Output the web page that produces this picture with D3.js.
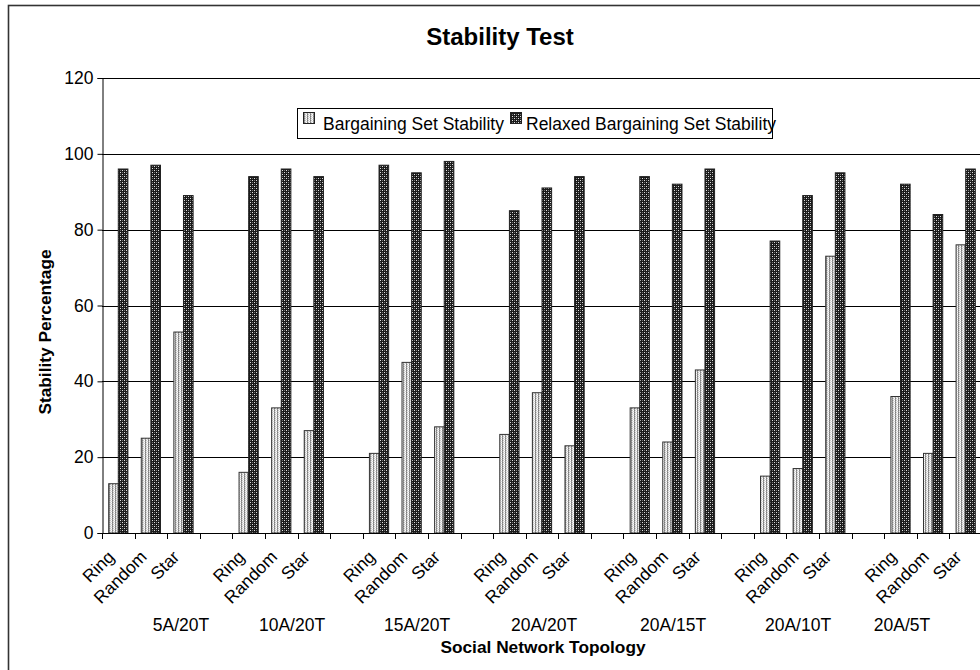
<!DOCTYPE html>
<html>
<head>
<meta charset="utf-8">
<script src="https://cdn.jsdelivr.net/npm/d3@7"></script>
<style>
  html, body { margin: 0; padding: 0; background: #fff; overflow: hidden; }
  svg { display: block; font-family: Arial, "Liberation Sans", sans-serif; }
</style>
</head>
<body>
<svg id="chart" width="980" height="670"></svg>
<script>
// Experiment groups (agents / tasks) and the topologies tested in each
const groups = ["5A/20T", "10A/20T", "15A/20T", "20A/20T", "20A/15T", "20A/10T", "20A/5T"];
const topologies = ["Ring", "Random", "Star"];

// Stability percentages, listed group by group in topology order
const bargaining = [13, 25, 53, 16, 33, 27, 21, 45, 28, 26, 37, 23, 33, 24, 43, 15, 17, 73, 36, 21, 76];
const relaxed    = [96, 97, 89, 94, 96, 94, 97, 95, 98, 85, 91, 94, 94, 92, 96, 77, 89, 95, 92, 84, 96];

const seriesNames = ["Bargaining Set Stability", "Relaxed Bargaining Set Stability"];
const yTicks = [0, 20, 40, 60, 80, 100, 120];

// Horizontal positions of the group names printed under the topology labels
const groupLabelX = [181, 292, 417, 544, 673, 798, 902];

// Category slots: three topologies per group, then an empty spacer slot
const slots = [];
groups.forEach((g, gi) => {
  topologies.forEach((t, ti) => {
    const k = gi * 3 + ti;
    slots.push({ label: t, group: g, b: bargaining[k], r: relaxed[k] });
  });
  if (gi < groups.length - 1) slots.push(null);
});

const svg = d3.select("#chart");
const plot = { left: 102, right: 982, top: 78, bottom: 533 };

// Fill patterns for the two series
const defs = svg.append("defs");
function pixelPattern(id, w, h, bg, pixels) {
  const p = defs.append("pattern").attr("id", id)
    .attr("patternUnits", "userSpaceOnUse").attr("width", w).attr("height", h);
  p.append("rect").attr("width", w).attr("height", h).attr("fill", bg);
  pixels.forEach(([px, py, c]) => {
    p.append("rect").attr("x", px).attr("y", py).attr("width", 1).attr("height", 1).attr("fill", c);
  });
}
// light stippled vertical stripes
pixelPattern("pat-light", 3, 2, "#b4b4b4", [
  [0, 0, "#ffffff"], [0, 1, "#d8d8d8"],
  [1, 0, "#7c7c7c"], [1, 1, "#9a9a9a"],
  [2, 0, "#c8c8c8"], [2, 1, "#ececec"]
]);
// dark dotted fill
pixelPattern("pat-dark", 4, 4, "#1a1a1a", [
  [0, 0, "#e0e0e0"], [2, 2, "#e0e0e0"],
  [2, 0, "#707070"], [0, 2, "#707070"]
]);

// Outer chart frame
svg.append("rect")
  .attr("x", 8.5).attr("y", 5.5).attr("width", 1100).attr("height", 800)
  .attr("fill", "none").attr("stroke", "#333").attr("stroke-width", 1.6);

// Scales
const x = d3.scaleBand().domain(d3.range(slots.length)).range([plot.left, plot.right]).padding(0);
const y = d3.scaleLinear().domain([0, 120]).range([plot.bottom, plot.top]);
const bw = x.bandwidth();
const barW = bw * 0.295;
const barOff = (bw - 2 * barW) / 2;

// Gridlines
svg.append("g").selectAll("line").data(yTicks.filter(d => d > 0)).join("line")
  .attr("x1", plot.left).attr("x2", 980)
  .attr("y1", d => Math.round(y(d)) + 0.5).attr("y2", d => Math.round(y(d)) + 0.5)
  .attr("stroke", "#000").attr("stroke-width", 1);

// Bars
const barData = slots.map((s, i) => ({ s, i })).filter(d => d.s);
const gBars = svg.append("g");
gBars.selectAll("rect.b").data(barData).join("rect").attr("class", "b")
  .attr("x", d => x(d.i) + barOff)
  .attr("y", d => y(d.s.b))
  .attr("width", barW)
  .attr("height", d => y(0) - y(d.s.b))
  .attr("fill", "url(#pat-light)").attr("stroke", "#333").attr("stroke-width", 1);
gBars.selectAll("rect.r").data(barData).join("rect").attr("class", "r")
  .attr("x", d => x(d.i) + barOff + barW)
  .attr("y", d => y(d.s.r))
  .attr("width", barW)
  .attr("height", d => y(0) - y(d.s.r))
  .attr("fill", "url(#pat-dark)").attr("stroke", "#222").attr("stroke-width", 1);

// Y axis
const yAxis = svg.append("g").attr("transform", `translate(${plot.left + 0.5},0)`)
  .call(d3.axisLeft(y).tickValues(yTicks).tickSize(5).tickPadding(4));
yAxis.select(".domain").attr("stroke", "#000");
yAxis.selectAll(".tick line").attr("stroke", "#000");
yAxis.selectAll(".tick text").attr("font-size", 17.5).attr("fill", "#000")
  .attr("font-family", "Arial, 'Liberation Sans', sans-serif");

// X axis: ticks on slot boundaries, rotated topology labels
const xAxisG = svg.append("g");
xAxisG.append("line")
  .attr("x1", plot.left).attr("x2", 980)
  .attr("y1", plot.bottom + 0.5).attr("y2", plot.bottom + 0.5)
  .attr("stroke", "#000");
xAxisG.selectAll("line.tick").data(d3.range(slots.length + 1)).join("line").attr("class", "tick")
  .attr("x1", i => Math.round(plot.left + i * bw) + 0.5)
  .attr("x2", i => Math.round(plot.left + i * bw) + 0.5)
  .attr("y1", plot.bottom).attr("y2", plot.bottom + 6)
  .attr("stroke", "#000");
xAxisG.selectAll("text").data(barData).join("text")
  .attr("transform", d => `translate(${x(d.i) + bw / 2 - 3},${plot.bottom + 25}) rotate(-45)`)
  .attr("text-anchor", "end")
  .attr("font-size", 17.5).attr("fill", "#000")
  .text(d => d.s.label);

// Group names and axis titles
svg.append("g").selectAll("text").data(groups).join("text")
  .attr("x", (d, i) => groupLabelX[i]).attr("y", 631)
  .attr("text-anchor", "middle").attr("font-size", 17.5).attr("fill", "#000")
  .text(d => d);

svg.append("text").attr("x", 543).attr("y", 653)
  .attr("text-anchor", "middle").attr("font-size", 17.3).attr("font-weight", "bold")
  .text("Social Network Topology");

svg.append("text")
  .attr("transform", "translate(51,332) rotate(-90)")
  .attr("text-anchor", "middle").attr("font-size", 17.3).attr("font-weight", "bold")
  .text("Stability Percentage");

svg.append("text").attr("x", 500).attr("y", 45)
  .attr("text-anchor", "middle").attr("font-size", 24).attr("font-weight", "bold")
  .text("Stability Test");

// Legend
const lg = svg.append("g");
lg.append("rect").attr("x", 297.5).attr("y", 108.5).attr("width", 475).attr("height", 30)
  .attr("fill", "#fff").attr("stroke", "#000");
const legendItems = [
  { name: seriesNames[0], fill: "url(#pat-light)", sx: 303, tx: 323 },
  { name: seriesNames[1], fill: "url(#pat-dark)", sx: 510, tx: 526 }
];
legendItems.forEach(it => {
  lg.append("rect").attr("x", it.sx + 0.5).attr("y", 112.5).attr("width", 11).attr("height", 11)
    .attr("fill", it.fill).attr("stroke", "#222");
  lg.append("text").attr("x", it.tx).attr("y", 130)
    .attr("font-size", 17.5).attr("fill", "#000").text(it.name);
});
</script>
</body>
</html>
